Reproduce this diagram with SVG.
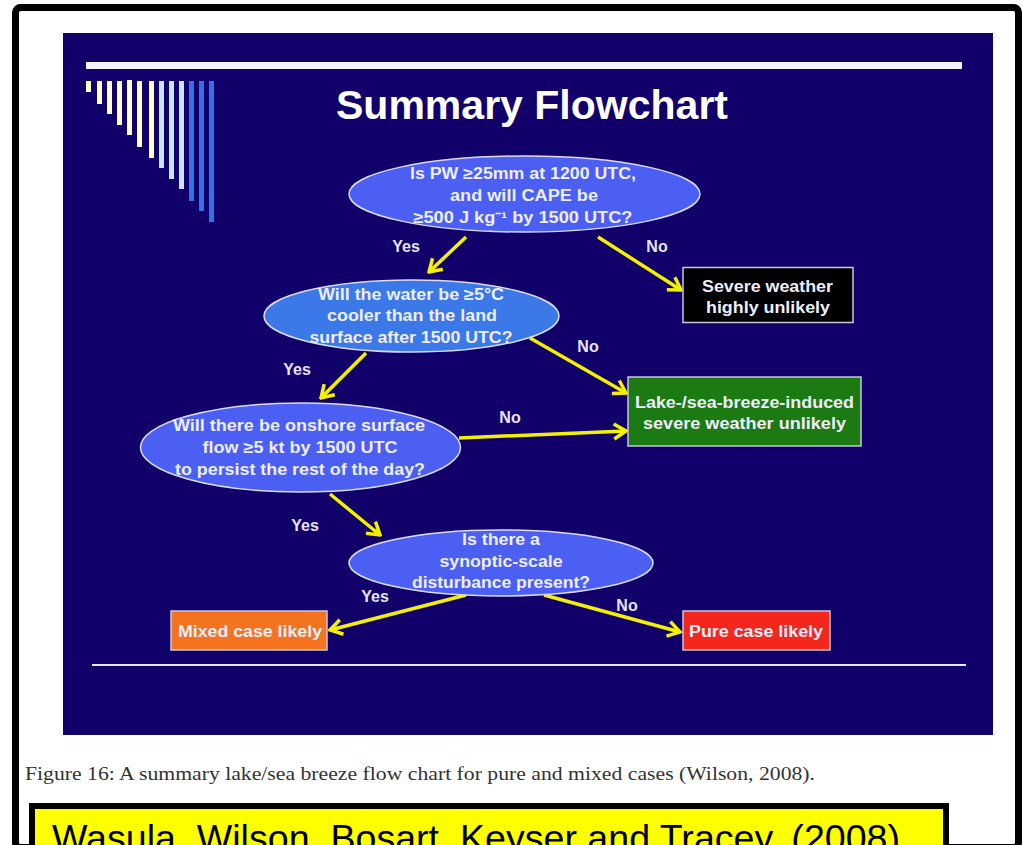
<svg xmlns="http://www.w3.org/2000/svg" width="1023" height="845" viewBox="0 0 1023 845">
<defs>
<style>
.et{font-family:"Liberation Sans",Arial,sans-serif;font-weight:bold;font-size:16px;fill:#eeeefc;text-anchor:middle}
.lb{font-family:"Liberation Sans",Arial,sans-serif;font-weight:bold;font-size:16px;fill:#e4e4f4;text-anchor:middle}
.ell{stroke:#dcdcf4;stroke-width:1.5}
.box{stroke:#c8c8e0;stroke-width:1.5}
.arr{stroke:#f2f200;stroke-width:3.5;fill:none;marker-end:url(#ah)}
.sy{fill:#ffffc8}.sl{fill:#c8e4ff}.sb{fill:#3570e8}
</style>
<marker id="ah" markerUnits="userSpaceOnUse" viewBox="-16 -10 18 20" markerWidth="18" markerHeight="20" refX="0" refY="0" orient="auto">
<path d="M-12,-7.5 L0,0 L-12,7.5" fill="none" stroke="#f2f200" stroke-width="3.5" stroke-linejoin="miter"/>
</marker>
</defs>
<rect x="0" y="0" width="1023" height="845" fill="#ffffff"/>
<rect x="15.5" y="7.5" width="1003" height="840" rx="5" fill="#ffffff" stroke="#000" stroke-width="7"/>
<g id="slide">
<rect x="63" y="33" width="930" height="702" fill="#12006a"/>
<rect x="86" y="62" width="876" height="7" fill="#f4f4fc"/>
<rect x="92" y="664" width="874" height="2" fill="#e8e8f8"/>
<rect class="sy" x="86" y="81" width="5" height="11"/>
<rect class="sy" x="97" y="81" width="5" height="23"/>
<rect class="sy" x="107" y="81" width="5" height="33"/>
<rect class="sy" x="117" y="81" width="5" height="44"/>
<rect class="sy" x="127" y="80" width="5" height="55"/>
<rect class="sy" x="137" y="81" width="5" height="66"/>
<rect class="sy" x="149" y="81" width="5" height="77"/>
<rect class="sl" x="159" y="81" width="5" height="87"/>
<rect class="sl" x="169" y="81" width="5" height="98"/>
<rect class="sl" x="179" y="81" width="5" height="108"/>
<rect class="sb" x="189" y="81" width="5" height="120"/>
<rect class="sb" x="199" y="81" width="5" height="130"/>
<rect class="sb" x="209" y="81" width="5" height="141"/>
<text x="532" y="119" font-family="Liberation Sans, Arial, sans-serif" font-weight="bold" font-size="40" fill="#ffffff" text-anchor="middle" textLength="392" lengthAdjust="spacingAndGlyphs">Summary Flowchart</text>
</g>
<g id="connectors">
<line class="arr" x1="466" y1="237" x2="429" y2="272"/>
<line class="arr" x1="598" y1="237" x2="681" y2="290"/>
<line class="arr" x1="366" y1="353" x2="321" y2="398"/>
<line class="arr" x1="530" y1="338" x2="626" y2="393"/>
<line class="arr" x1="459" y1="438" x2="626" y2="431"/>
<line class="arr" x1="330" y1="494" x2="380" y2="535"/>
<line class="arr" x1="466" y1="595" x2="330" y2="630"/>
<line class="arr" x1="544" y1="595" x2="680" y2="632"/>
<text class="lb" x="406" y="252">Yes</text>
<text class="lb" x="657" y="252">No</text>
<text class="lb" x="297" y="375">Yes</text>
<text class="lb" x="588" y="352">No</text>
<text class="lb" x="510" y="423">No</text>
<text class="lb" x="305" y="531">Yes</text>
<text class="lb" x="375" y="602">Yes</text>
<text class="lb" x="627" y="611">No</text>
</g>
<g id="q1">
<ellipse class="ell" cx="524.5" cy="194" rx="175.5" ry="38" fill="#4b5ff3"/>
<text class="et" x="523" y="179" textLength="226" lengthAdjust="spacingAndGlyphs">Is PW ≥25mm at 1200 UTC,</text>
<text class="et" x="524" y="201" textLength="148" lengthAdjust="spacingAndGlyphs">and will CAPE be</text>
<text class="et" x="523" y="223" textLength="219" lengthAdjust="spacingAndGlyphs">≥500 J kg⁻¹ by 1500 UTC?</text>
</g>
<g id="q2">
<ellipse class="ell" cx="411.5" cy="316" rx="147.5" ry="36" fill="#3b78e8"/>
<text class="et" x="411" y="300" textLength="186" lengthAdjust="spacingAndGlyphs">Will the water be ≥5°C</text>
<text class="et" x="412" y="321" textLength="170" lengthAdjust="spacingAndGlyphs">cooler than the land</text>
<text class="et" x="411" y="343" textLength="203" lengthAdjust="spacingAndGlyphs">surface after 1500 UTC?</text>
</g>
<g id="q3">
<ellipse class="ell" cx="300.5" cy="447.5" rx="160" ry="44.5" fill="#4b5ff3"/>
<text class="et" x="299" y="431" textLength="252" lengthAdjust="spacingAndGlyphs">Will there be onshore surface</text>
<text class="et" x="300" y="453" textLength="195" lengthAdjust="spacingAndGlyphs">flow ≥5 kt by 1500 UTC</text>
<text class="et" x="300" y="475" textLength="250" lengthAdjust="spacingAndGlyphs">to persist the rest of the day?</text>
</g>
<g id="q4">
<ellipse class="ell" cx="501" cy="563" rx="152" ry="33" fill="#4b5ff3"/>
<text class="et" x="501" y="545" textLength="78" lengthAdjust="spacingAndGlyphs">Is there a</text>
<text class="et" x="501" y="567" textLength="123" lengthAdjust="spacingAndGlyphs">synoptic-scale</text>
<text class="et" x="501" y="588" textLength="178" lengthAdjust="spacingAndGlyphs">disturbance present?</text>
</g>
<g id="severe">
<rect class="box" x="683" y="267.5" width="170" height="55" fill="#000000"/>
<text class="et" x="767.5" y="292" textLength="131" lengthAdjust="spacingAndGlyphs">Severe weather</text>
<text class="et" x="768" y="313" textLength="124" lengthAdjust="spacingAndGlyphs">highly unlikely</text>
</g>
<g id="lakesea">
<rect class="box" x="628" y="377" width="233" height="69" fill="#1b7a12"/>
<text class="et" x="744.5" y="408" textLength="219" lengthAdjust="spacingAndGlyphs">Lake-/sea-breeze-induced</text>
<text class="et" x="744.5" y="429" textLength="203" lengthAdjust="spacingAndGlyphs">severe weather unlikely</text>
</g>
<g id="mixed">
<rect class="box" x="171" y="611" width="156" height="39" fill="#f5731e"/>
<text class="et" x="250" y="637" textLength="144" lengthAdjust="spacingAndGlyphs">Mixed case likely</text>
</g>
<g id="pure">
<rect class="box" x="683" y="611" width="147" height="39" fill="#f5261b"/>
<text class="et" x="756" y="637" textLength="134" lengthAdjust="spacingAndGlyphs">Pure case likely</text>
</g>
<text x="25" y="780" font-family="Liberation Serif, Times New Roman, serif" font-size="18" fill="#333333" textLength="790" lengthAdjust="spacingAndGlyphs">Figure 16:  A summary lake/sea breeze flow chart for pure and mixed cases (Wilson, 2008).</text>
<g id="citation">
<rect x="32" y="806" width="914" height="45" fill="#ffff00" stroke="#000" stroke-width="6"/>
<text x="52" y="851" font-family="Liberation Sans, Arial, sans-serif" font-size="37" fill="#000" textLength="848" lengthAdjust="spacingAndGlyphs">Wasula, Wilson, Bosart, Keyser and Tracey, (2008)</text>
</g>
</svg>
